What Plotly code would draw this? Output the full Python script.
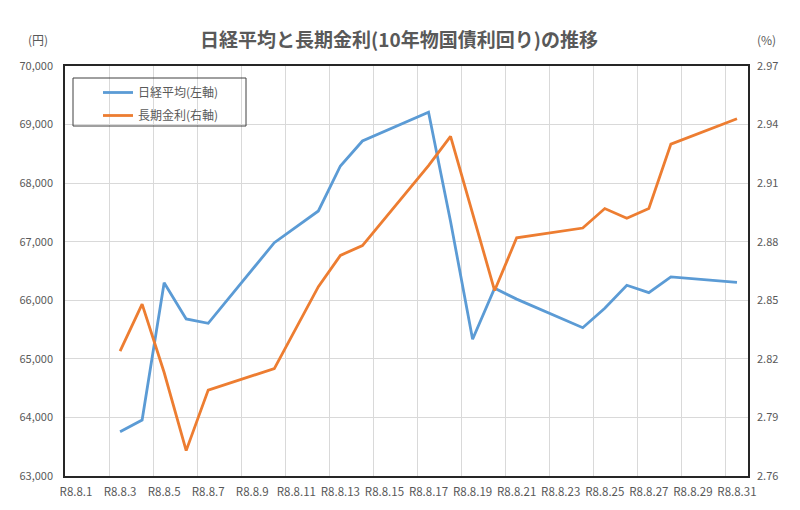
import plotly.graph_objects as go

# ---- data ----
dates = ["2026-08-03", "2026-08-04", "2026-08-05", "2026-08-06", "2026-08-07",
         "2026-08-10", "2026-08-12", "2026-08-13", "2026-08-14", "2026-08-17",
         "2026-08-18", "2026-08-19", "2026-08-20", "2026-08-21", "2026-08-24",
         "2026-08-25", "2026-08-26", "2026-08-27", "2026-08-28", "2026-08-31"]
nikkei = [63756, 63956, 66300, 65681, 65607,
          66983, 67525, 68293, 68720, 69210,
          67345, 65334, 66205, 66020, 65532,
          65863, 66256, 66130, 66398, 66307]
jgb10y = [2.824, 2.848, 2.813, 2.773, 2.804,
          2.815, 2.857, 2.873, 2.878, 2.919,
          2.934, 2.894, 2.855, 2.882, 2.887,
          2.897, 2.892, 2.897, 2.930, 2.943]
series_names = ["日経平均(左軸)", "長期金利(右軸)"]
title_text = "日経平均と長期金利(10年物国債利回り)の推移"

FONT = "Noto Sans CJK JP"
GRAY = "#595959"
DAY_MS = 86400000

# page has an 8px body margin; figure coordinates are offset from page ones
OFF = 8
W, H = 800 - OFF, 510 - OFF
L, R, T, B = 65 - OFF, 800 - 748, 66 - OFF, 510 - 476
PW, PH = W - L - R, H - T - B
DAY_PX = PW / 31


def px(xp):
    return (xp - OFF - L) / PW


def py(yp):
    return (H - B - (yp - OFF)) / PH


fig = go.Figure()
fig.add_trace(go.Scatter(
    x=dates, y=nikkei, name=series_names[0], mode="lines",
    line=dict(color="#5B9BD5", width=2.8),
    xperiod=DAY_MS, xperiodalignment="middle",
    legendgroup="a", yaxis="y"))
fig.add_trace(go.Scatter(
    x=dates, y=jgb10y, name=series_names[1], mode="lines",
    line=dict(color="#ED7D31", width=2.8),
    xperiod=DAY_MS, xperiodalignment="middle",
    legendgroup="b", yaxis="y2"))

fig.update_layout(
    width=W, height=H,
    margin=dict(l=L, r=R, t=T, b=B, autoexpand=False),
    paper_bgcolor="white", plot_bgcolor="white",
    font=dict(family=FONT, color=GRAY, size=11),
    title=dict(text=title_text, x=(399 - OFF) / W, xanchor="center",
               y=1 - (40 - OFF) / H, yanchor="middle",
               font=dict(family=FONT, size=19, color=GRAY, weight="bold")),
    xaxis=dict(
        type="date", range=["2026-08-01", "2026-09-01"],
        tick0="2026-08-01", dtick=2 * DAY_MS, tickformat="R8.%-m.%-d",
        showgrid=True, gridcolor="#d9d9d9", gridwidth=1,
        showline=True, linecolor="#262626", linewidth=1.5, mirror=True,
        ticks="", ticklabelstandoff=4, ticklabelshift=int(round(DAY_PX / 2)),
        tickfont=dict(size=11.5, color=GRAY), zeroline=False),
    yaxis=dict(
        range=[63000, 70000], dtick=1000, tickformat=",",
        showgrid=True, gridcolor="#d9d9d9", gridwidth=1,
        showline=True, linecolor="#262626", linewidth=1.5, mirror=True,
        ticks="", ticklabelstandoff=8, zeroline=False,
        tickfont=dict(size=11, color=GRAY)),
    yaxis2=dict(
        overlaying="y", side="right", range=[2.76, 2.97], dtick=0.03,
        tickformat=".2f", showgrid=False, zeroline=False,
        ticks="", ticklabelstandoff=8,
        tickfont=dict(size=11, color=GRAY)),
    legend=dict(
        x=px(98), y=py(78), xanchor="left", yanchor="top",
        bgcolor="rgba(0,0,0,0)", borderwidth=0,
        font=dict(family=FONT, size=12, color=GRAY),
        traceorder="grouped", tracegroupgap=4, itemwidth=30),
    showlegend=True,
)

# legend frame
fig.add_shape(type="rect", xref="paper", yref="paper",
              x0=px(73), x1=px(246), y0=py(126), y1=py(78),
              line=dict(color="#404040", width=1), fillcolor="rgba(0,0,0,0)")

fig.add_annotation(text="(円)", xref="paper", yref="paper",
                   x=px(38), y=py(40), showarrow=False,
                   xanchor="center", yanchor="middle",
                   font=dict(family=FONT, size=12, color=GRAY))
fig.add_annotation(text="(%)", xref="paper", yref="paper",
                   x=px(766), y=py(40), showarrow=False,
                   xanchor="center", yanchor="middle",
                   font=dict(family=FONT, size=12, color=GRAY))

fig.write_html("out.html")
